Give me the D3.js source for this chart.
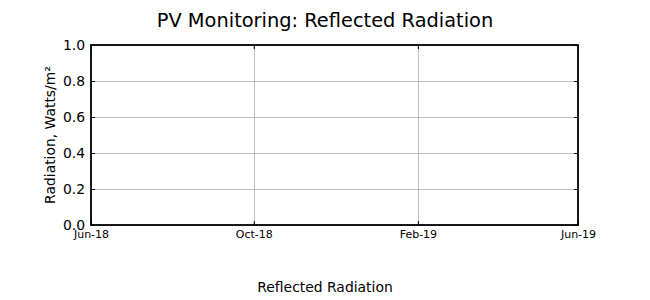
<!DOCTYPE html>
<html>
<head>
<meta charset="utf-8">
<script src="https://cdn.jsdelivr.net/npm/d3@7"></script>
<style>
  html, body { margin: 0; padding: 0; background: #fff; }
  text { font-family: "DejaVu Sans", sans-serif; fill: #000; }
</style>
</head>
<body>
<svg id="chart" width="650" height="300"></svg>
<script>
// ---- data ----
const chartTitle = "PV Monitoring: Reflected Radiation";
const yAxisLabel = "Radiation, Watts/m\u00b2";
const xAxisLabel = "Reflected Radiation";
const xDomainDates = ["2018-06-01", "2019-06-01"];
const xTickDates = ["2018-06-01", "2018-10-01", "2019-02-01", "2019-06-01"];
const xTickLabels = ["Jun-18", "Oct-18", "Feb-19", "Jun-19"];
const yTickValues = [0, 0.2, 0.4, 0.6, 0.8, 1.0];
const yTickLabels = ["0.0", "0.2", "0.4", "0.6", "0.8", "1.0"];
// the reference plot has no plotted data
const reflectedDates = [];
const reflectedValues = [];

// ---- layout ----
(function () {
const svg = d3.select("#chart");
const pLeft = 91, pRight = 578, pTop = 45, pBottom = 225;
const parse = d3.timeParse("%Y-%m-%d");

const x = d3.scaleTime().domain(xDomainDates.map(parse)).range([pLeft, pRight]);
const y = d3.scaleLinear().domain([0, 1]).range([pBottom, pTop]);

const tickDates = xTickDates.map(parse);

// grid
const grid = svg.append("g").attr("stroke", "#b0b0b0").attr("stroke-width", 0.8);
grid.selectAll("line.gy").data(yTickValues).join("line").attr("class", "gy")
  .attr("x1", pLeft).attr("x2", pRight)
  .attr("y1", d => Math.round(y(d)) + 0.5).attr("y2", d => Math.round(y(d)) + 0.5);
grid.selectAll("line.gx").data(tickDates).join("line").attr("class", "gx")
  .attr("y1", pTop).attr("y2", pBottom)
  .attr("x1", d => Math.round(x(d)) + 0.5).attr("x2", d => Math.round(x(d)) + 0.5);

// data line (empty)
const line = d3.line().x((d, i) => x(parse(reflectedDates[i]))).y(d => y(d));
svg.append("path").datum(reflectedValues)
  .attr("fill", "none").attr("stroke", "#1f77b4").attr("stroke-width", 1.5)
  .attr("d", line);

// axes with inward ticks
const fmtX = d => xTickLabels[tickDates.findIndex(t => +t === +d)];
const fmtY = d => yTickLabels[yTickValues.indexOf(d)];

const xAxisB = svg.append("g").attr("transform", `translate(0,${pBottom})`)
  .call(d3.axisBottom(x).tickValues(tickDates).tickFormat(fmtX).tickSizeInner(-4).tickSizeOuter(0).tickPadding(5));
xAxisB.selectAll("text").attr("font-size", "11px").attr("font-family", "DejaVu Sans");
xAxisB.select(".domain").remove();

const xAxisT = svg.append("g").attr("transform", `translate(0,${pTop})`)
  .call(d3.axisTop(x).tickValues(tickDates).tickFormat("").tickSizeInner(-4).tickSizeOuter(0));
xAxisT.select(".domain").remove();

const yAxisL = svg.append("g").attr("transform", `translate(${pLeft},0)`)
  .call(d3.axisLeft(y).tickValues(yTickValues).tickFormat(fmtY).tickSizeInner(-4).tickSizeOuter(0).tickPadding(6));
yAxisL.selectAll("text").attr("font-size", "13.9px").attr("font-family", "DejaVu Sans");
yAxisL.select(".domain").remove();

const yAxisR = svg.append("g").attr("transform", `translate(${pRight},0)`)
  .call(d3.axisRight(y).tickValues(yTickValues).tickFormat("").tickSizeInner(-4).tickSizeOuter(0));
yAxisR.select(".domain").remove();

svg.selectAll(".tick line").attr("stroke", "#000").attr("stroke-width", 1);

// frame
svg.append("rect").attr("x", pLeft).attr("y", pTop)
  .attr("width", pRight - pLeft).attr("height", pBottom - pTop)
  .attr("fill", "none").attr("stroke", "#000").attr("stroke-width", 1.8);

// title & labels
svg.append("text").attr("x", 325).attr("y", 27).attr("text-anchor", "middle")
  .attr("font-size", "19.4px").text(chartTitle);
svg.append("text").attr("x", 325).attr("y", 292).attr("text-anchor", "middle")
  .attr("font-size", "13.9px").text(xAxisLabel);
svg.append("text").attr("transform", `translate(55,${(pTop + pBottom) / 2}) rotate(-90)`)
  .attr("text-anchor", "middle").attr("font-size", "13.9px").text(yAxisLabel);
})();
</script>
</body>
</html>
